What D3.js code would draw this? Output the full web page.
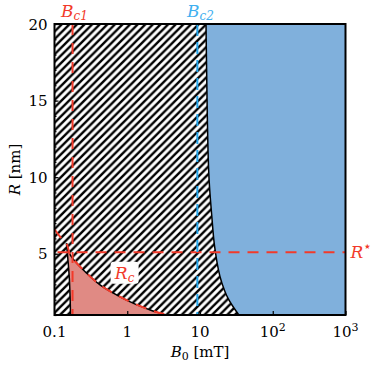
<!DOCTYPE html>
<html>
<head>
<meta charset="utf-8">
<script src="https://cdn.jsdelivr.net/npm/d3@7"></script>
<style>
  body { margin: 0; background: #fff; }
</style>
</head>
<body>
<div id="chart"></div>
<script>
// DATA
var xTicks = [0.1, 1, 10, 100, 1000];
var xTickLabels = ["0.1", "1", "10", "10^2", "10^3"];
var yTicks = [5, 10, 15, 20];

// boundary of the blue region
var blueB = [12.1, 12.6, 13.4, 14.5, 16.0, 19.8, 24.2, 31.8, 34.2];
var blueR = [20, 14.0, 9.65, 7.5, 5.36, 3.15, 2.1, 1.21, 1];

// pink region: upper curve and left edge
var pinkTopB = [0.146, 0.166, 0.28, 0.427, 0.72, 1.22, 2.07, 3.11, 3.3];
var pinkTopR = [5.68, 4.9, 3.71, 2.95, 2.3, 1.76, 1.33, 1.05, 1];
var pinkLeftB = [0.146, 0.159, 0.164, 0.166];
var pinkLeftR = [5.68, 3.6, 2.1, 1];

// R_c dashed curve
var rcB = [0.1, 0.12, 0.146, 0.166, 0.28, 0.427, 0.72, 1.22, 2.07, 3.11, 4.3];
var rcR = [6.6, 6.1, 5.68, 4.9, 3.71, 2.95, 2.3, 1.76, 1.33, 1.08, 0.98];

var Bc1 = 0.177, Bc2 = 9.2, Rstar = 5.1;

function PhaseChart() {
    var self = this;

    this.width = 374;
    this.height = 366;
    this.margin = {top: 24, right: 28.5, bottom: 51, left: 54.5};
    this.c_width = this.width - this.margin.left - this.margin.right;
    this.c_height = this.height - this.margin.top - this.margin.bottom;

    this.font = "DejaVu Serif, serif";
    this.red = "#f23a2a";
    this.blue = "#22a6ec";

    this.draw = function(div_id) {
        this.svg = d3.select(div_id).append("svg")
            .attr("width", this.width)
            .attr("height", this.height)
            .attr("font-family", this.font);

        var defs = this.svg.append("defs");
        var p = 7.6;
        defs.append("pattern")
            .attr("id", "hatch")
            .attr("patternUnits", "userSpaceOnUse")
            .attr("width", p).attr("height", p)
          .append("path")
            .attr("d", "M" + (-p/4) + "," + (p/4) + "L" + (p/4) + "," + (-p/4) +
                       "M0," + p + "L" + p + ",0" +
                       "M" + (3*p/4) + "," + (5*p/4) + "L" + (5*p/4) + "," + (3*p/4))
            .attr("stroke", "#000")
            .attr("stroke-width", 2.4);
        defs.append("clipPath").attr("id", "clip")
          .append("rect").attr("width", this.c_width).attr("height", this.c_height);

        this.g = this.svg.append("g")
            .attr("transform", "translate(" + this.margin.left + "," + this.margin.top + ")");

        this.x = d3.scaleLog().domain([0.1, 1000]).range([0, this.c_width]);
        this.y = d3.scaleLinear().domain([1, 20]).range([this.c_height, 0]);
        var x = this.x, y = this.y;

        var plot = this.g.append("g").attr("clip-path", "url(#clip)");

        // hatched background
        plot.append("rect")
            .attr("width", this.c_width).attr("height", this.c_height)
            .attr("fill", "url(#hatch)");

        // blue region
        var blue = d3.zip(blueB, blueR);
        var bline = d3.line().x(d => x(d[0])).y(d => y(d[1])).curve(d3.curveMonotoneY);
        plot.append("path")
            .attr("d", bline(blue.slice().reverse()) + "L" + x(1000) + "," + y(20) + "L" + x(1000) + "," + y(1) + "Z")
            .attr("fill", "#80b0dc");
        plot.append("path")
            .attr("d", bline(blue.slice().reverse()))
            .attr("fill", "none").attr("stroke", "#000").attr("stroke-width", 1.5);

        // pink region
        var top = d3.zip(pinkTopB, pinkTopR);
        var left = d3.zip(pinkLeftB, pinkLeftR);
        var line = d3.line().x(d => x(d[0])).y(d => y(d[1])).curve(d3.curveCatmullRom);
        var pinkPts = left.slice().reverse().concat(top);
        plot.append("path")
            .attr("d", line(pinkPts) + "Z")
            .attr("fill", "#e08a84");
        plot.append("path").attr("d", line(top))
            .attr("fill", "none").attr("stroke", "#000").attr("stroke-width", 1.5);
        plot.append("path").attr("d", line(left))
            .attr("fill", "none").attr("stroke", "#000").attr("stroke-width", 1.5);

        // R_c dashed
        plot.append("path").attr("d", line(d3.zip(rcB, rcR)))
            .attr("fill", "none").attr("stroke", this.red).attr("stroke-width", 2)
            .attr("stroke-dasharray", "11,8");

        // reference lines
        plot.append("line")
            .attr("x1", x(Bc1)).attr("x2", x(Bc1)).attr("y1", 0).attr("y2", this.c_height)
            .attr("stroke", this.red).attr("stroke-width", 2).attr("stroke-dasharray", "11,8");
        plot.append("line")
            .attr("x1", 0).attr("x2", this.c_width).attr("y1", y(Rstar)).attr("y2", y(Rstar))
            .attr("stroke", this.red).attr("stroke-width", 2).attr("stroke-dasharray", "11,8")
            .attr("stroke-dashoffset", -3);
        plot.append("line")
            .attr("x1", x(Bc2)).attr("x2", x(Bc2)).attr("y1", 0).attr("y2", this.c_height)
            .attr("stroke", this.blue).attr("stroke-width", 2).attr("stroke-dasharray", "12,6");

        // R_c label with white box
        var lx = x(0.92), ly = y(3.7);
        this.g.append("rect")
            .attr("x", lx - 14).attr("y", ly - 12).attr("width", 28).attr("height", 22)
            .attr("rx", 3).attr("fill", "#fff");
        var rc = this.g.append("text").attr("x", lx).attr("y", ly + 5)
            .attr("text-anchor", "middle").attr("fill", this.red).attr("font-size", 17);
        rc.append("tspan").attr("font-style", "italic").text("R");
        rc.append("tspan").attr("font-style", "italic").attr("font-size", 12).attr("dy", 3).text("c");

        /* AXIS */
        this.g.append("g")
            .attr("transform", "translate(0," + this.c_height + ")")
            .call(d3.axisBottom(x).tickValues(xTicks).tickSize(-4).tickFormat(""));
        this.g.append("g")
            .call(d3.axisLeft(y).tickValues(d3.range(1, 21)).tickSize(-2).tickFormat(""));
        this.g.append("g")
            .call(d3.axisLeft(y).tickValues(yTicks).tickSize(-4).tickFormat(""));
        this.g.selectAll(".domain").remove();
        this.g.selectAll(".tick line").attr("stroke", "#000").attr("stroke-width", 1.2);

        this.g.append("rect")
            .attr("width", this.c_width).attr("height", this.c_height)
            .attr("fill", "none").attr("stroke", "#000").attr("stroke-width", 2);

        // x tick labels
        xTicks.forEach(function(v, i) {
            var lab = xTickLabels[i];
            var t = self.g.append("text")
                .attr("x", x(v)).attr("y", self.c_height + 22)
                .attr("text-anchor", "middle").attr("font-size", 15).attr("fill", "#000");
            if (lab.indexOf("^") > 0) {
                var parts = lab.split("^");
                t.append("tspan").text(parts[0]);
                t.append("tspan").attr("dy", -6).attr("font-size", 11).text(parts[1]);
            } else {
                t.text(lab);
            }
        });

        // y tick labels
        yTicks.forEach(function(v) {
            self.g.append("text")
                .attr("x", -7).attr("y", y(v) + 5.5)
                .attr("text-anchor", "end").attr("font-size", 15).attr("fill", "#000")
                .text(v);
        });

        // axis titles
        var xt = this.g.append("text")
            .attr("x", this.c_width / 2).attr("y", this.c_height + 42)
            .attr("text-anchor", "middle").attr("font-size", 15).attr("fill", "#000");
        xt.append("tspan").attr("font-style", "italic").text("B");
        xt.append("tspan").attr("font-size", 11).attr("dy", 3).text("0");
        xt.append("tspan").attr("dy", -3).text(" [mT]");

        var yt = this.svg.append("text")
            .attr("transform", "translate(20," + (this.margin.top + this.c_height / 2) + ") rotate(-90)")
            .attr("text-anchor", "middle").attr("font-size", 15).attr("fill", "#000");
        yt.append("tspan").attr("font-style", "italic").text("R");
        yt.append("tspan").text(" [nm]");

        // line labels
        var b1 = this.g.append("text")
            .attr("x", x(Bc1) + 2).attr("y", -7)
            .attr("text-anchor", "middle").attr("font-size", 17).attr("fill", this.red);
        b1.append("tspan").attr("font-style", "italic").text("B");
        b1.append("tspan").attr("font-style", "italic").attr("font-size", 12).attr("dy", 3).text("c1");

        var b2 = this.g.append("text")
            .attr("x", x(Bc2) + 3).attr("y", -7)
            .attr("text-anchor", "middle").attr("font-size", 17).attr("fill", "#3fb0f0");
        b2.append("tspan").attr("font-style", "italic").text("B");
        b2.append("tspan").attr("font-style", "italic").attr("font-size", 12).attr("dy", 3).text("c2");

        var rs = this.g.append("text")
            .attr("x", this.c_width + 5).attr("y", y(Rstar) + 6)
            .attr("font-size", 17).attr("fill", this.red);
        rs.append("tspan").attr("font-style", "italic").text("R");
        rs.append("tspan").attr("font-size", 14).attr("dy", -7).text("\u22C6");
    }
}

var chart = new PhaseChart();
chart.draw("#chart");
</script>
</body>
</html>
